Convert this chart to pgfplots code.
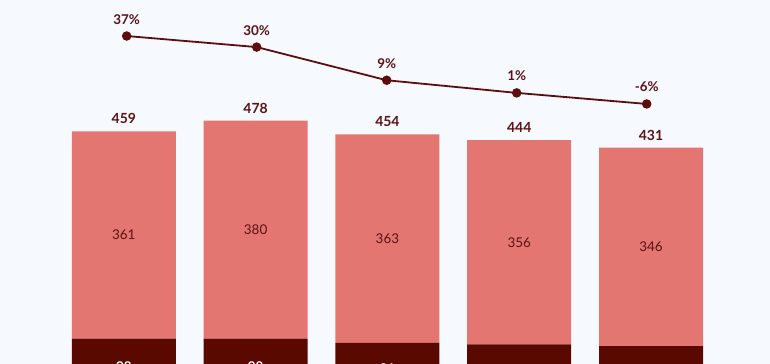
\documentclass[border=0pt]{standalone}
\usepackage{pgfplots}
\pgfplotsset{compat=1.18}
\usepackage{pgfplotstable}
\usepackage{fontspec}
\setmainfont{Lato}
\definecolor{bg}{HTML}{F6F9FD}
\definecolor{lightred}{HTML}{E47672}
\definecolor{darkred}{HTML}{5A0900}
\definecolor{linec}{HTML}{5E0D0D}
\definecolor{labc}{HTML}{5A1212}

\pgfplotstableread{
x dark light total mid dmid
0 98 361 459 278.5 49
1 98 380 478 288 49
2 91 363 454 272.5 45.5
3 88 356 444 266 44
4 85 346 431 258 42.5
}\bars

\pgfplotstableread{
x p lab
0 37 37\%
1 30 30\%
2 9 9\%
3 1 1\%
4 -6 -6\%
}\pct

\pgfplotsset{
  base/.style={
    width=770bp, height=364bp, scale only axis,
    at={(0,0)}, anchor=south west,
    hide axis,
  },
  barx/.style={xmin=-0.9393, xmax=4.9029, ymin=54, ymax=688},
}

\begin{document}
\begin{tikzpicture}
\clip (0,0) rectangle (770bp,364bp);
\fill[bg] (0,0) rectangle (770bp,364bp);

% stacked bars
\begin{axis}[base, barx, ybar stacked, bar width=104bp]
\addplot[fill=darkred, draw=none] table[x=x, y=dark]{\bars};
\addplot[fill=lightred, draw=none] table[x=x, y=light]{\bars};
\end{axis}

% labels for bars
\begin{axis}[base, barx, clip=false]
\addplot[draw=none, mark=none, nodes near coords, point meta=explicit symbolic,
  every node near coord/.style={anchor=base, yshift=7.5bp, inner sep=0pt,
     text=labc, font=\fontsize{14}{16}\selectfont\bfseries}]
  table[x=x, y=total, meta=total]{\bars};
\addplot[draw=none, mark=none, nodes near coords, point meta=explicit symbolic,
  every node near coord/.style={anchor=center, inner sep=0pt,
     text=labc, font=\fontsize{13.5}{15}\selectfont}]
  table[x=x, y=mid, meta=light]{\bars};
\addplot[draw=none, mark=none, nodes near coords, point meta=explicit symbolic,
  every node near coord/.style={anchor=center, inner sep=0pt,
     text=white, font=\fontsize{13.5}{15}\selectfont\bfseries}]
  table[x=x, y=dmid, meta=dark]{\bars};
\end{axis}

% growth line
\begin{axis}[base, xmin=-0.9746, xmax=4.9485, ymin=-170.6, ymax=59.8, clip=false]
\addplot[linec, line width=1.8bp, mark=*, mark size=3.8bp,
  mark options={fill=linec, draw=linec},
  nodes near coords, point meta=explicit symbolic,
  every node near coord/.style={anchor=base, yshift=12bp, inner sep=0pt,
     text=labc, font=\fontsize{13.5}{15}\selectfont\bfseries}]
  table[x=x, y=p, meta=lab]{\pct};
\end{axis}
\end{tikzpicture}
\end{document}
